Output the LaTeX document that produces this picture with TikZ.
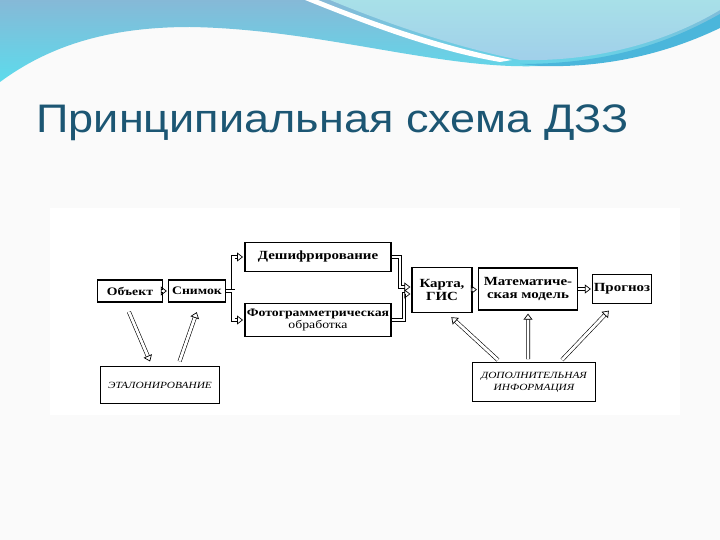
\documentclass[tikz,border=0pt]{standalone}
\usepackage{fontspec}
\setmainfont{Liberation Serif}[FakeStretch=1.2]
\newfontfamily\titlefont{Liberation Sans}[FakeStretch=1.13]
\usepackage{xcolor}
\usetikzlibrary{positioning,arrows.meta}
\definecolor{ttl}{HTML}{1C5673}
\definecolor{wavea}{HTML}{86B9D7}
\definecolor{waveb}{HTML}{5CDBEC}
\definecolor{bubla}{HTML}{A8E0E8}
\definecolor{bublb}{HTML}{A0CFEA}
\definecolor{bandc}{HTML}{4BB6DB}

\begin{document}
\begin{tikzpicture}[
  x=1bp, y=-1bp,
  font=\fontsize{12.5}{13.5}\selectfont\bfseries,
  box/.style={draw, line width=1.5pt, align=center, inner sep=1pt},
  small/.style={font=\fontsize{11.5}{12}\selectfont\bfseries},
  note/.style={draw, line width=1pt, align=center, inner sep=1pt,
               font=\fontsize{9.5}{12}\selectfont\itshape\mdseries},
  dbl/.style={double, double distance=2.8pt, line width=0.6pt,
              -{Triangle[open, length=6pt, width=9pt, line width=0.7pt]},
              shorten >=1pt},
]
\useasboundingbox (0,0) rectangle (720,540);
\fill[black!2] (0,0) rectangle (720,540);
\shade[top color=wavea, bottom color=waveb]
  (0,0) -- (0,82) .. controls (50,45) and (110,27) .. (190,27)
  .. controls (320,29) and (440,70) .. (540,66)
  .. controls (620,62) and (680,42) .. (720,20) -- (720,0) -- cycle;
\fill[bandc] (520,64) .. controls (610,64) and (670,42) .. (720,14)
  -- (720,28) .. controls (670,52) and (610,68) .. (540,66) -- cycle;
\fill[white] (318,0) .. controls (380,25) and (450,48) .. (512,60)
  -- (500,62) .. controls (430,50) and (360,22) .. (305,0) -- cycle;
\shade[top color=bubla, bottom color=bublb]
  (330,0) .. controls (390,25) and (460,48) .. (520,60)
  .. controls (600,62) and (670,40) .. (720,10) -- (720,0) -- cycle;
\node[anchor=base west, text=ttl, font=\titlefont\fontsize{40}{42}\selectfont]
  (title) at (33,133) {Принципиальная схема ДЗЗ};
\fill[white] (50,208) rectangle (680,415);
\node[box, small, minimum width=65, minimum height=22] (obj)  at (130,291) {Объект};
\node[box, small, minimum width=57, minimum height=22] (snim) at (197,291) {Снимок};
\node[box, minimum width=147, minimum height=29] (deshif)  at (318,257) {Дешифрирование};
\node[box, small, minimum width=147, minimum height=33] (foto) at (318,320)
  {Фотограмметрическая\\\mdseries обработка};
\node[box, minimum width=60, minimum height=45]  (karta)   at (442,290) {Карта,\\ГИС};
\node[box, minimum width=99, minimum height=42]  (matem)   at (528,289)
  {Математиче-\\ская модель};
\node[box, minimum width=59, minimum height=29]  (prognoz) at (622,289) {Прогноз};
\node[note, minimum width=119, minimum height=37] (etalon) at (160,385) {ЭТАЛОНИРОВАНИЕ};
\node[note, minimum width=124, minimum height=39] (dopinf) at (534,382)
  {ДОПОЛНИТЕЛЬНАЯ\\ИНФОРМАЦИЯ};
\draw[dbl] (obj) -- (snim);
\draw[dbl] (snim.east) -- ++(7,0) |- (deshif.west);
\draw[dbl] (snim.east) -- ++(7,0) |- (foto.west);
\draw[dbl] (deshif.east) -- ++(8,0) |- ([yshift=3pt]karta.west);
\draw[dbl] (foto.east) -- ++(12,0) |- ([yshift=-4pt]karta.west);
\draw[dbl] (karta) -- (matem);
\draw[dbl] (matem) -- (prognoz);
\draw[dbl, shorten <=10pt, shorten >=5pt] ([xshift=-5pt]obj.south) -- ([xshift=-8pt]etalon.north);
\draw[dbl, shorten <=5pt, shorten >=10pt] ([xshift=18pt]etalon.north) -- ([xshift=3pt]snim.south);
\draw[dbl, shorten <=3pt, shorten >=6pt] ([xshift=-34pt]dopinf.north) -- ([xshift=5pt]karta.south);
\draw[dbl, shorten <=3pt, shorten >=3pt] ([xshift=-6pt]dopinf.north) -- (matem.south);
\draw[dbl, shorten <=3pt, shorten >=9pt] ([xshift=26pt]dopinf.north) -- ([xshift=-7pt]prognoz.south);
\end{tikzpicture}
\end{document}
